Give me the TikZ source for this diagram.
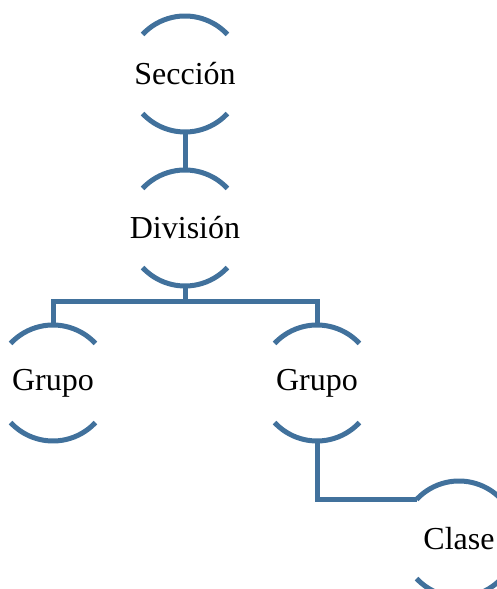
\documentclass[tikz,border=0pt]{standalone}
\usepackage{fontspec}
\setmainfont{Liberation Serif}
\definecolor{lineablue}{RGB}{65,113,156}

\begin{document}
\begin{tikzpicture}[x=1pt,y=1pt,
		fase/.style={circle,minimum size=116pt,inner sep=0pt,outer sep=0pt,
			font=\fontsize{32}{38}\selectfont},
		arco/.style={lineablue,line width=5pt},
		enlace/.style={lineablue,line width=5pt}]
		\useasboundingbox (0,0) rectangle (496,589);
		%nodos
		\node[fase] (seccion) at (185,515) {Sección};
		\node[fase] (division) at (185,361) {División};
		\node[fase] (grupoA) at (53,206) {Grupo};
		\node[fase] (grupoB) at (317,206) {Grupo};
		\node[fase] (clase) at (459,50) {Clase};
		\foreach \n in {seccion,division,grupoA,grupoB,clase}{
			\draw[arco] (\n.43) arc (43:137:58pt);
			\draw[arco] (\n.223) arc (223:317:58pt);
		}
		%enlaces
		\coordinate (rama) at (185,287);
		\draw[enlace] (seccion.south)--(division.north);
		\draw[enlace] (division.south)--(rama);
		\draw[enlace] (grupoA.north)|-(rama)-|(grupoB.north);
		\draw[enlace] (grupoB.south)|-(clase.137);
	\end{tikzpicture}
\end{document}
